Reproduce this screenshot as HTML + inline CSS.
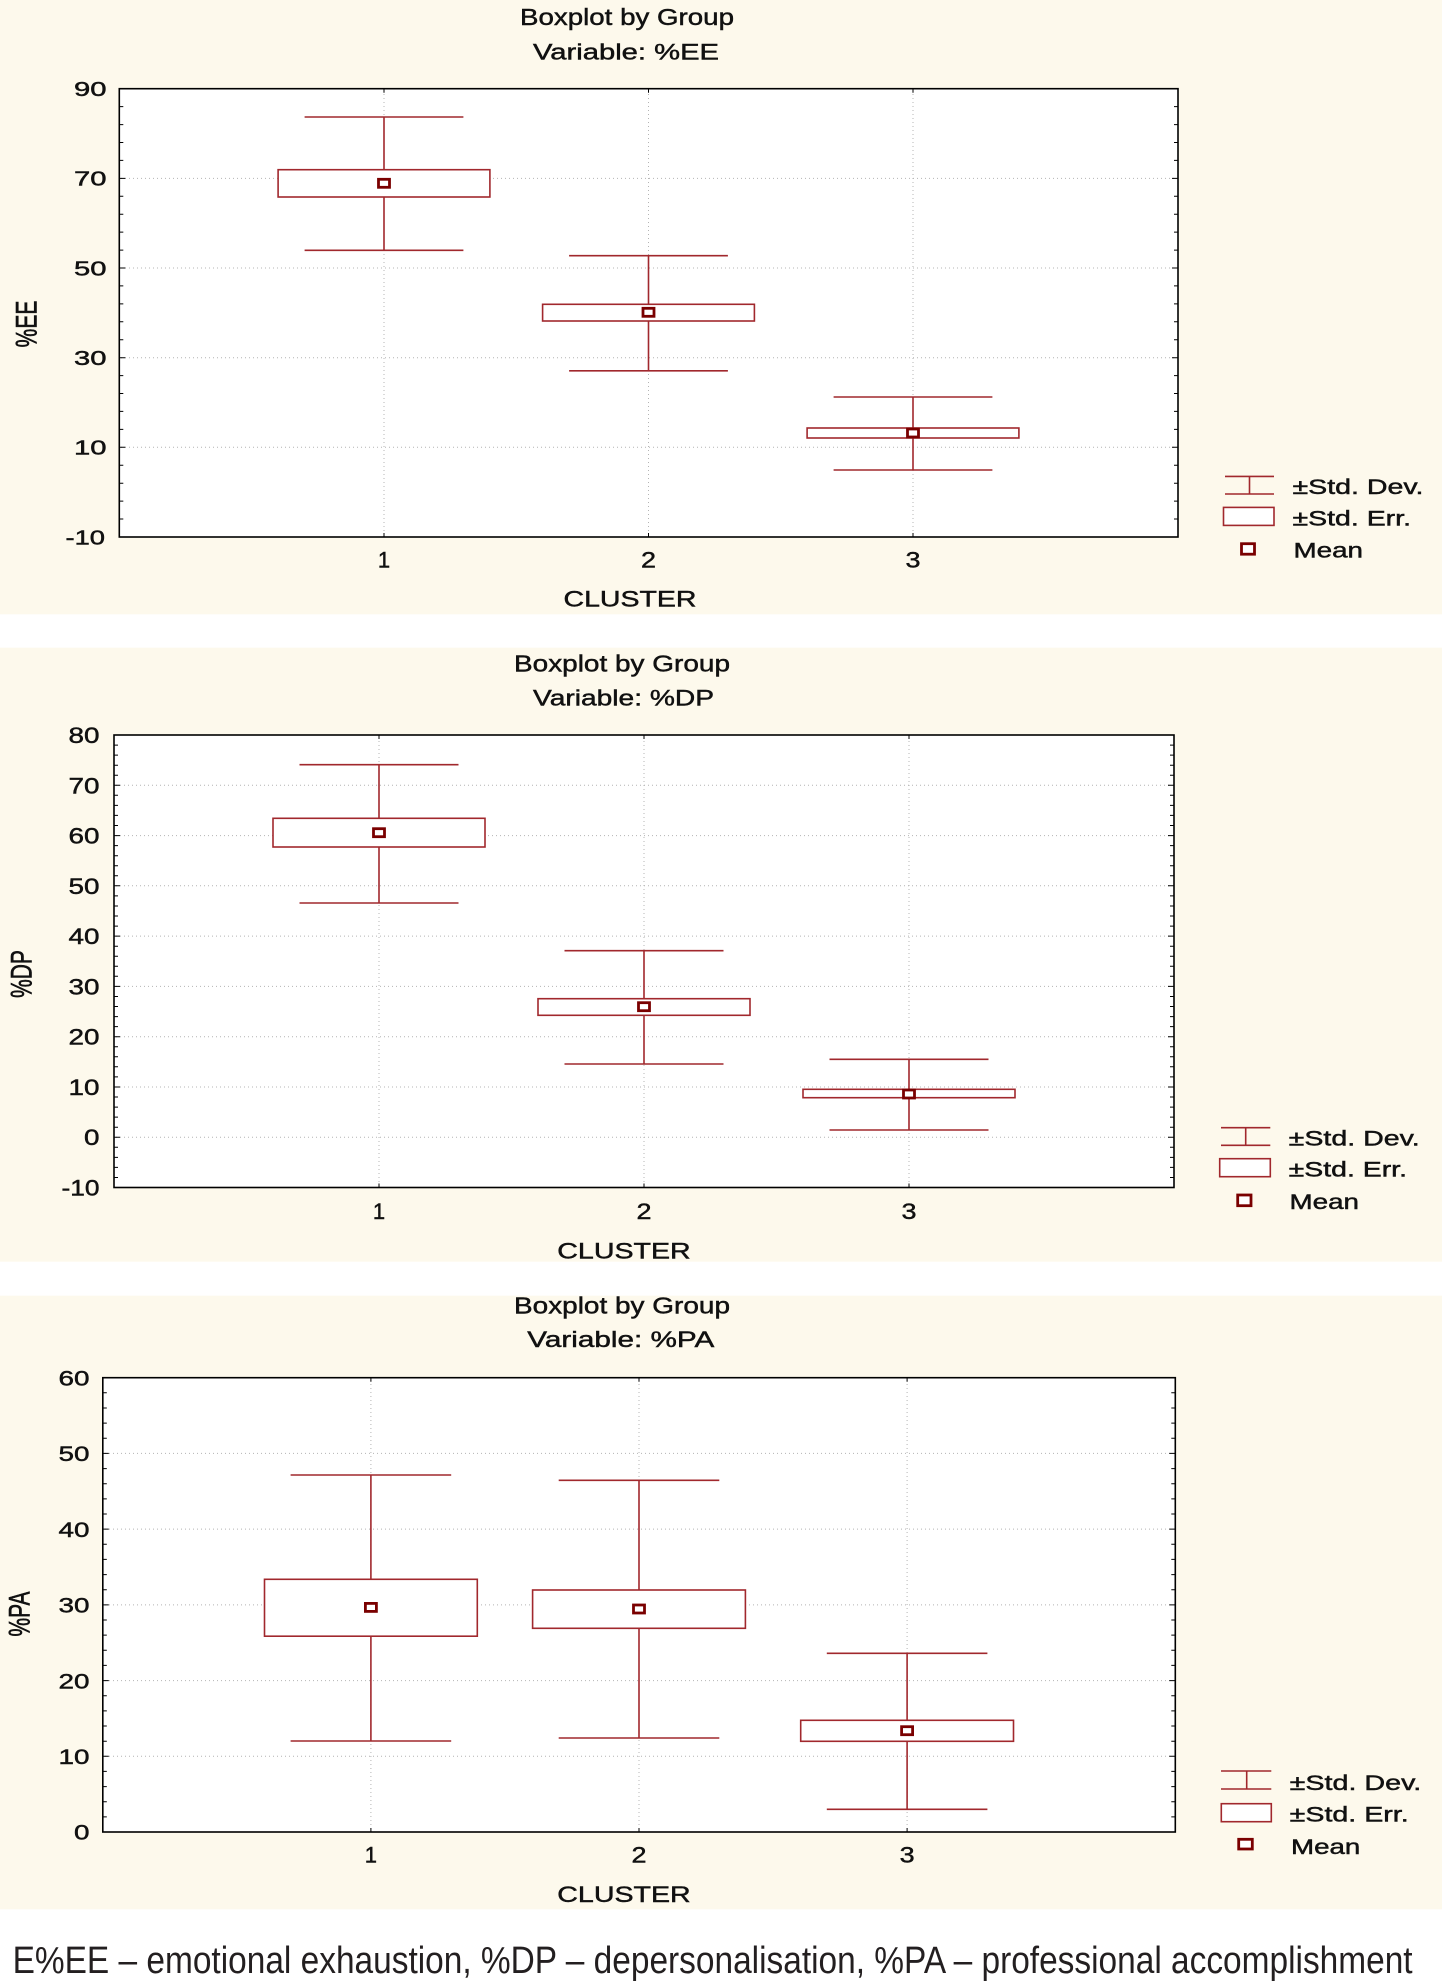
<!DOCTYPE html>
<html>
<head>
<meta charset="utf-8">
<style>
html,body{margin:0;padding:0;background:#ffffff;}
svg{display:block;}
text{font-family:"Liberation Sans",Arial,sans-serif;fill:#111;stroke:#111;stroke-width:0.45px;}
text.cap{stroke:none;fill:#231f20;}
</style>
</head>
<body>
<svg width="1442" height="1982" viewBox="0 0 1442 1982" xmlns="http://www.w3.org/2000/svg">
<!-- backgrounds -->
<rect x="0" y="0" width="1442" height="1982" fill="#ffffff"/>
<rect x="0" y="0" width="1442" height="614.3" fill="#fdf9ec"/>
<rect x="0" y="647.7" width="1442" height="614" fill="#fdf9ec"/>
<rect x="0" y="1295.7" width="1442" height="613.6" fill="#fdf9ec"/>

<!-- ================= PANEL 1 ================= -->
<rect x="119.3" y="88.7" width="1058.7" height="448.3" fill="#ffffff"/>
<g stroke="#b4b4b4" stroke-width="1" stroke-dasharray="1 3" fill="none">
<path d="M121 178.4H1176M121 268H1176M121 357.7H1176M121 447.3H1176"/>
<path d="M384 90V536M648.5 90V536M913 90V536"/>
</g>
<g stroke="#000" stroke-width="1" fill="none">
<path d="M119.3 106.6h4M119.3 124.6h4M119.3 142.5h4M119.3 160.4h4M119.3 196.3h4M119.3 214.2h4M119.3 232.1h4M119.3 250.1h4M119.3 285.9h4M119.3 303.9h4M119.3 321.8h4M119.3 339.7h4M119.3 375.6h4M119.3 393.5h4M119.3 411.4h4M119.3 429.4h4M119.3 465.2h4M119.3 483.2h4M119.3 501.1h4M119.3 519h4M119.3 178.4h6M119.3 268h6M119.3 357.7h6M119.3 447.3h6"/>
<path d="M1178 106.6h-4M1178 124.6h-4M1178 142.5h-4M1178 160.4h-4M1178 196.3h-4M1178 214.2h-4M1178 232.1h-4M1178 250.1h-4M1178 285.9h-4M1178 303.9h-4M1178 321.8h-4M1178 339.7h-4M1178 375.6h-4M1178 393.5h-4M1178 411.4h-4M1178 429.4h-4M1178 465.2h-4M1178 483.2h-4M1178 501.1h-4M1178 519h-4M1178 178.4h-6M1178 268h-6M1178 357.7h-6M1178 447.3h-6"/>
<path d="M384 88.7v4M648.5 88.7v4M913 88.7v4M384 537v-4M648.5 537v-4M913 537v-4"/>
</g>
<rect x="119.3" y="88.7" width="1058.7" height="448.3" fill="none" stroke="#000" stroke-width="1.6"/>
<g stroke="#a1282d" stroke-width="1.6" fill="#ffffff">
<path d="M304.6 117H463.4M384 117V169.7M384 197V250.3M304.6 250.3H463.4" fill="none"/>
<rect x="278.1" y="169.7" width="211.8" height="27.3"/>
<path d="M569.1 255.7H727.9M648.5 255.7V304.3M648.5 321V370.8M569.1 370.8H727.9" fill="none"/>
<rect x="542.6" y="304.3" width="211.8" height="16.7"/>
<path d="M833.6 397H992.4M913 397V428M913 438V470M833.6 470H992.4" fill="none"/>
<rect x="807.1" y="428" width="211.8" height="10"/>
</g>
<g stroke="#7a0000" stroke-width="2.8" fill="#ffffff">
<rect x="378.5" y="179.3" width="11" height="8"/>
<rect x="643" y="308.3" width="11" height="8"/>
<rect x="907.5" y="429" width="11" height="8"/>
</g>
<g font-size="20" text-anchor="end">
<text x="106.5" y="96" textLength="32.5" lengthAdjust="spacingAndGlyphs">90</text>
<text x="106.5" y="185.7" textLength="32.5" lengthAdjust="spacingAndGlyphs">70</text>
<text x="106.5" y="275.3" textLength="32.5" lengthAdjust="spacingAndGlyphs">50</text>
<text x="106.5" y="365" textLength="32.5" lengthAdjust="spacingAndGlyphs">30</text>
<text x="106.5" y="454.6" textLength="32.5" lengthAdjust="spacingAndGlyphs">10</text>
<text x="105" y="544.3" textLength="39.5" lengthAdjust="spacingAndGlyphs">-10</text>
</g>
<g font-size="22" text-anchor="middle">
<text x="384" y="567.7">1</text>
<text x="648.5" y="567.7" textLength="15" lengthAdjust="spacingAndGlyphs">2</text>
<text x="913" y="567.7" textLength="15" lengthAdjust="spacingAndGlyphs">3</text>
</g>
<text x="563.5" y="606.7" font-size="22" textLength="133" lengthAdjust="spacingAndGlyphs">CLUSTER</text>
<text x="520" y="25" font-size="23" textLength="214" lengthAdjust="spacingAndGlyphs">Boxplot by Group</text>
<text x="533" y="59.3" font-size="22" textLength="186" lengthAdjust="spacingAndGlyphs">Variable: %EE</text>
<text transform="translate(36.5,324) scale(1.4,1) rotate(-90)" font-size="21" text-anchor="middle">%EE</text>
<!-- legend 1 -->
<g stroke="#a1282d" stroke-width="1.6" fill="#ffffff">
<path d="M1225 476.4H1274M1225 494H1274M1249.5 476.4V494" fill="none"/>
<rect x="1223.5" y="507.4" width="50.5" height="18"/>
</g>
<rect x="1241.5" y="543.7" width="13" height="10.5" fill="#fff" stroke="#7a0000" stroke-width="2.8"/>
<g font-size="21">
<text x="1292.5" y="494" textLength="131" lengthAdjust="spacingAndGlyphs">±Std. Dev.</text>
<text x="1292.5" y="525.4" textLength="118.5" lengthAdjust="spacingAndGlyphs">±Std. Err.</text>
<text x="1293.5" y="557.7" textLength="69.5" lengthAdjust="spacingAndGlyphs">Mean</text>
</g>

<!-- ================= PANEL 2 ================= -->
<rect x="114" y="735" width="1060" height="452.5" fill="#ffffff"/>
<g stroke="#b4b4b4" stroke-width="1" stroke-dasharray="1 3" fill="none">
<path d="M116 785.3H1172M116 835.6H1172M116 885.8H1172M116 936.1H1172M116 986.4H1172M116 1036.7H1172M116 1087H1172M116 1137.2H1172"/>
<path d="M379 737V1186M644 737V1186M909 737V1186"/>
</g>
<g stroke="#000" stroke-width="1" fill="none">
<path d="M114 745.1h4M114 755.1h4M114 765.2h4M114 775.2h4M114 795.3h4M114 805.4h4M114 815.4h4M114 825.5h4M114 845.6h4M114 855.7h4M114 865.7h4M114 875.8h4M114 895.9h4M114 906h4M114 916h4M114 926.1h4M114 946.2h4M114 956.2h4M114 966.3h4M114 976.3h4M114 996.5h4M114 1006.5h4M114 1016.6h4M114 1026.6h4M114 1046.7h4M114 1056.8h4M114 1066.8h4M114 1076.9h4M114 1097h4M114 1107.1h4M114 1117.1h4M114 1127.2h4M114 1147.3h4M114 1157.4h4M114 1167.4h4M114 1177.5h4M114 785.3h6M114 835.6h6M114 885.8h6M114 936.1h6M114 986.4h6M114 1036.7h6M114 1087h6M114 1137.2h6"/>
<path d="M1174 745.1h-4M1174 755.1h-4M1174 765.2h-4M1174 775.2h-4M1174 795.3h-4M1174 805.4h-4M1174 815.4h-4M1174 825.5h-4M1174 845.6h-4M1174 855.7h-4M1174 865.7h-4M1174 875.8h-4M1174 895.9h-4M1174 906h-4M1174 916h-4M1174 926.1h-4M1174 946.2h-4M1174 956.2h-4M1174 966.3h-4M1174 976.3h-4M1174 996.5h-4M1174 1006.5h-4M1174 1016.6h-4M1174 1026.6h-4M1174 1046.7h-4M1174 1056.8h-4M1174 1066.8h-4M1174 1076.9h-4M1174 1097h-4M1174 1107.1h-4M1174 1117.1h-4M1174 1127.2h-4M1174 1147.3h-4M1174 1157.4h-4M1174 1167.4h-4M1174 1177.5h-4M1174 785.3h-6M1174 835.6h-6M1174 885.8h-6M1174 936.1h-6M1174 986.4h-6M1174 1036.7h-6M1174 1087h-6M1174 1137.2h-6"/>
<path d="M379 735v4M644 735v4M909 735v4M379 1187.5v-4M644 1187.5v-4M909 1187.5v-4"/>
</g>
<rect x="114" y="735" width="1060" height="452.5" fill="none" stroke="#000" stroke-width="1.6"/>
<g stroke="#a1282d" stroke-width="1.6" fill="#ffffff">
<path d="M299.5 764.7H458.5M379 764.7V818.3M379 847V903M299.5 903H458.5" fill="none"/>
<rect x="273" y="818.3" width="212" height="28.7"/>
<path d="M564.5 950.7H723.5M644 950.7V998.7M644 1015.3V1064M564.5 1064H723.5" fill="none"/>
<rect x="538" y="998.7" width="212" height="16.6"/>
<path d="M829.5 1059.3H988.5M909 1059.3V1089.3M909 1097.7V1130M829.5 1130H988.5" fill="none"/>
<rect x="803" y="1089.3" width="212" height="8.4"/>
</g>
<g stroke="#7a0000" stroke-width="2.8" fill="#ffffff">
<rect x="373.5" y="828.7" width="11" height="8"/>
<rect x="638.5" y="1002.7" width="11" height="8"/>
<rect x="903.5" y="1090" width="11" height="8"/>
</g>
<g font-size="22" text-anchor="end">
<text x="99.5" y="743" textLength="31" lengthAdjust="spacingAndGlyphs">80</text>
<text x="99.5" y="793.3" textLength="31" lengthAdjust="spacingAndGlyphs">70</text>
<text x="99.5" y="843.6" textLength="31" lengthAdjust="spacingAndGlyphs">60</text>
<text x="99.5" y="893.8" textLength="31" lengthAdjust="spacingAndGlyphs">50</text>
<text x="99.5" y="944.1" textLength="31" lengthAdjust="spacingAndGlyphs">40</text>
<text x="99.5" y="994.4" textLength="31" lengthAdjust="spacingAndGlyphs">30</text>
<text x="99.5" y="1044.7" textLength="31" lengthAdjust="spacingAndGlyphs">20</text>
<text x="99.5" y="1095" textLength="31" lengthAdjust="spacingAndGlyphs">10</text>
<text x="99.5" y="1145.2" textLength="15.5" lengthAdjust="spacingAndGlyphs">0</text>
<text x="99.5" y="1195.5" textLength="38" lengthAdjust="spacingAndGlyphs">-10</text>
</g>
<g font-size="22" text-anchor="middle">
<text x="379" y="1219">1</text>
<text x="644" y="1219" textLength="15" lengthAdjust="spacingAndGlyphs">2</text>
<text x="909" y="1219" textLength="15" lengthAdjust="spacingAndGlyphs">3</text>
</g>
<text x="557.3" y="1258.3" font-size="22" textLength="133.4" lengthAdjust="spacingAndGlyphs">CLUSTER</text>
<text x="514" y="671.3" font-size="23" textLength="216" lengthAdjust="spacingAndGlyphs">Boxplot by Group</text>
<text x="533" y="705.6" font-size="22" textLength="181" lengthAdjust="spacingAndGlyphs">Variable: %DP</text>
<text transform="translate(31.5,974) scale(1.4,1) rotate(-90)" font-size="21" text-anchor="middle">%DP</text>
<!-- legend 2 -->
<g stroke="#a1282d" stroke-width="1.6" fill="#ffffff">
<path d="M1221 1127.7H1270.3M1221 1145.3H1270.3M1245.7 1127.7V1145.3" fill="none"/>
<rect x="1219.7" y="1158.7" width="50.6" height="18"/>
</g>
<rect x="1237.7" y="1195" width="13.3" height="10.7" fill="#fff" stroke="#7a0000" stroke-width="2.8"/>
<g font-size="21">
<text x="1288.7" y="1145.3" textLength="131" lengthAdjust="spacingAndGlyphs">±Std. Dev.</text>
<text x="1288.7" y="1176.7" textLength="118.3" lengthAdjust="spacingAndGlyphs">±Std. Err.</text>
<text x="1289.5" y="1209" textLength="69.5" lengthAdjust="spacingAndGlyphs">Mean</text>
</g>

<!-- ================= PANEL 3 ================= -->
<rect x="102.8" y="1377.7" width="1072.5" height="454.3" fill="#ffffff"/>
<g stroke="#b4b4b4" stroke-width="1" stroke-dasharray="1 3" fill="none">
<path d="M105 1453.4H1173M105 1529.1H1173M105 1604.9H1173M105 1680.6H1173M105 1756.3H1173"/>
<path d="M370.9 1380V1831M639 1380V1831M907.1 1380V1831"/>
</g>
<g stroke="#000" stroke-width="1" fill="none">
<path d="M102.8 1392.8h4M102.8 1408h4M102.8 1423.1h4M102.8 1438.3h4M102.8 1468.6h4M102.8 1483.7h4M102.8 1498.9h4M102.8 1514h4M102.8 1544.3h4M102.8 1559.4h4M102.8 1574.6h4M102.8 1589.7h4M102.8 1620h4M102.8 1635.1h4M102.8 1650.3h4M102.8 1665.4h4M102.8 1695.7h4M102.8 1710.9h4M102.8 1726h4M102.8 1741.2h4M102.8 1771.4h4M102.8 1786.6h4M102.8 1801.7h4M102.8 1816.9h4M102.8 1453.4h6M102.8 1529.1h6M102.8 1604.9h6M102.8 1680.6h6M102.8 1756.3h6"/>
<path d="M1175.3 1392.8h-4M1175.3 1408h-4M1175.3 1423.1h-4M1175.3 1438.3h-4M1175.3 1468.6h-4M1175.3 1483.7h-4M1175.3 1498.9h-4M1175.3 1514h-4M1175.3 1544.3h-4M1175.3 1559.4h-4M1175.3 1574.6h-4M1175.3 1589.7h-4M1175.3 1620h-4M1175.3 1635.1h-4M1175.3 1650.3h-4M1175.3 1665.4h-4M1175.3 1695.7h-4M1175.3 1710.9h-4M1175.3 1726h-4M1175.3 1741.2h-4M1175.3 1771.4h-4M1175.3 1786.6h-4M1175.3 1801.7h-4M1175.3 1816.9h-4M1175.3 1453.4h-6M1175.3 1529.1h-6M1175.3 1604.9h-6M1175.3 1680.6h-6M1175.3 1756.3h-6"/>
<path d="M370.9 1377.7v4M639 1377.7v4M907.1 1377.7v4M370.9 1832v-4M639 1832v-4M907.1 1832v-4"/>
</g>
<rect x="102.8" y="1377.7" width="1072.5" height="454.3" fill="none" stroke="#000" stroke-width="1.6"/>
<g stroke="#a1282d" stroke-width="1.6" fill="#ffffff">
<path d="M290.6 1475H451.2M370.9 1475V1579.3M370.9 1636.2V1741M290.6 1741H451.2" fill="none"/>
<rect x="264.5" y="1579.3" width="212.8" height="56.9"/>
<path d="M558.7 1480.3H719.3M639 1480.3V1590M639 1628.3V1738M558.7 1738H719.3" fill="none"/>
<rect x="532.6" y="1590" width="212.8" height="38.3"/>
<path d="M826.8 1653.3H987.4M907.1 1653.3V1720.3M907.1 1741.3V1809.3M826.8 1809.3H987.4" fill="none"/>
<rect x="800.7" y="1720.3" width="212.8" height="21"/>
</g>
<g stroke="#7a0000" stroke-width="2.8" fill="#ffffff">
<rect x="365.4" y="1603.4" width="11" height="8"/>
<rect x="633.5" y="1605" width="11" height="8"/>
<rect x="901.6" y="1726.7" width="11" height="8"/>
</g>
<g font-size="21" text-anchor="end">
<text x="89.5" y="1385.4" textLength="31" lengthAdjust="spacingAndGlyphs">60</text>
<text x="89.5" y="1461.1" textLength="31" lengthAdjust="spacingAndGlyphs">50</text>
<text x="89.5" y="1536.8" textLength="31" lengthAdjust="spacingAndGlyphs">40</text>
<text x="89.5" y="1612.6" textLength="31" lengthAdjust="spacingAndGlyphs">30</text>
<text x="89.5" y="1688.3" textLength="31" lengthAdjust="spacingAndGlyphs">20</text>
<text x="89.5" y="1764" textLength="31" lengthAdjust="spacingAndGlyphs">10</text>
<text x="89.5" y="1839.7" textLength="15.5" lengthAdjust="spacingAndGlyphs">0</text>
</g>
<g font-size="22" text-anchor="middle">
<text x="370.9" y="1862.5">1</text>
<text x="639" y="1862.5" textLength="15" lengthAdjust="spacingAndGlyphs">2</text>
<text x="907.1" y="1862.5" textLength="15" lengthAdjust="spacingAndGlyphs">3</text>
</g>
<text x="557.3" y="1902" font-size="22" textLength="133.4" lengthAdjust="spacingAndGlyphs">CLUSTER</text>
<text x="514" y="1313.3" font-size="23" textLength="216" lengthAdjust="spacingAndGlyphs">Boxplot by Group</text>
<text x="527.3" y="1347" font-size="22" textLength="187" lengthAdjust="spacingAndGlyphs">Variable: %PA</text>
<text transform="translate(29.6,1614) scale(1.4,1) rotate(-90)" font-size="21" text-anchor="middle">%PA</text>
<!-- legend 3 -->
<g stroke="#a1282d" stroke-width="1.6" fill="#ffffff">
<path d="M1221 1771H1271.3M1221 1789H1271.3M1246.7 1771V1789" fill="none"/>
<rect x="1221.3" y="1803.7" width="50" height="18"/>
</g>
<rect x="1238.7" y="1839.3" width="13.6" height="9.7" fill="#fff" stroke="#7a0000" stroke-width="2.8"/>
<g font-size="21">
<text x="1289.7" y="1790" textLength="131.6" lengthAdjust="spacingAndGlyphs">±Std. Dev.</text>
<text x="1289.7" y="1821.7" textLength="119" lengthAdjust="spacingAndGlyphs">±Std. Err.</text>
<text x="1291" y="1854" textLength="69.3" lengthAdjust="spacingAndGlyphs">Mean</text>
</g>

<!-- caption -->
<text class="cap" x="12.6" y="1973" font-size="38" textLength="1400" lengthAdjust="spacingAndGlyphs">E%EE – emotional exhaustion, %DP – depersonalisation, %PA – professional accomplishment</text>
</svg>
</body>
</html>
